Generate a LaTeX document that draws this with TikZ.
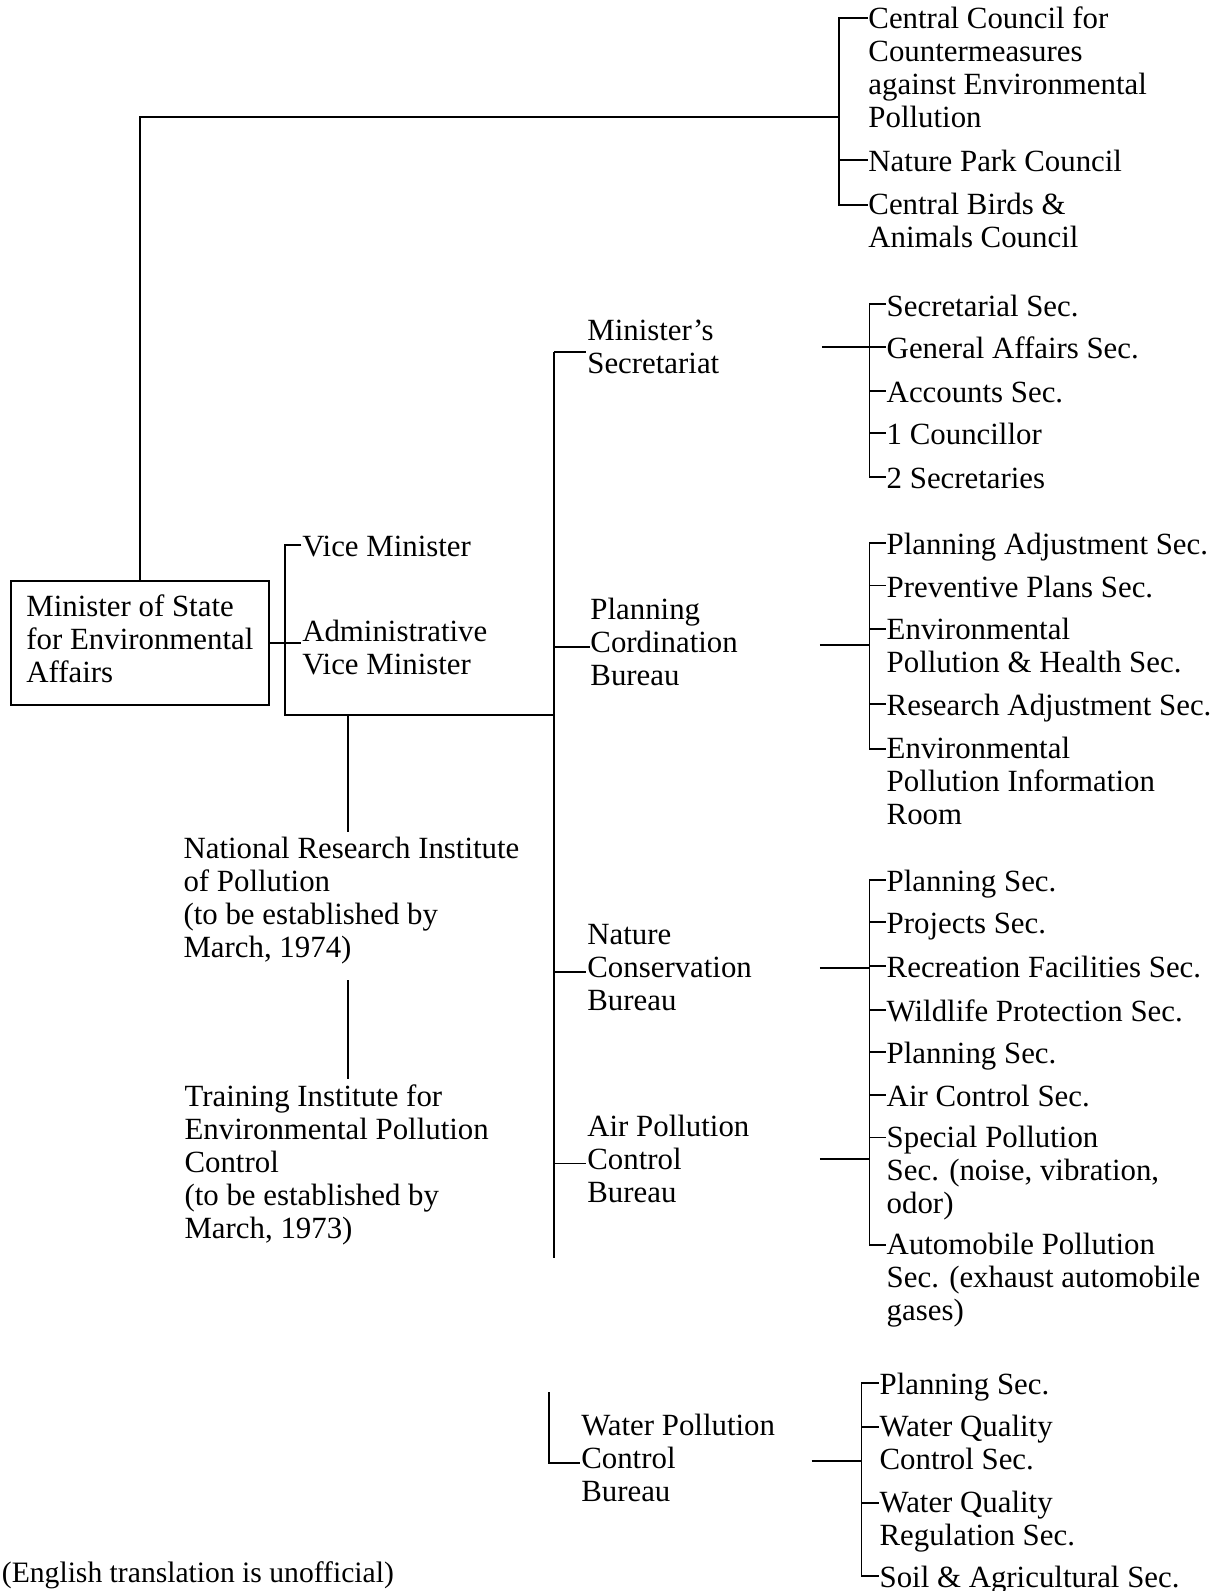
\documentclass[tikz,border=0pt]{standalone}
\usepackage{fontspec}
\setmainfont{Liberation Serif}
\usetikzlibrary{calc}

\begin{document}
\begin{tikzpicture}[
    x=0.5pt, y=-0.5pt,
    line width=0.9pt,
    every node/.style={font=\fontsize{15.2}{16.25}\selectfont},
    item/.style={anchor=north west, inner sep=0pt, yshift=6.1pt, align=left, execute at begin node=\strut},
    office/.style={draw, align=left, inner sep=0pt, minimum width=127pt, minimum height=61pt, anchor=north west, execute at begin node=\strut},
    lineone/.style={yshift=-6.1pt}
]
    \useasboundingbox (0,0) rectangle (1202,1568);

    % councils
    \node[item] (ccp) at (855,18) {Central Council for\\Countermeasures\\against Environmental\\Pollution};
    \node[item] (npc) at (855,158) {Nature Park Council};
    \node[item] (cba) at (855,202) {Central Birds \&\\Animals Council};

    % minister and vice ministers
    \node[office] (mos) at (10,572) {Minister of State\\for Environmental\\Affairs};
    \node[item] (vm) at (297,537) {Vice Minister};
    \node[item] (avm) at (297,622) {Administrative\\Vice Minister};
    \node[item] (nri) at (180,836) {National Research Institute\\of Pollution\\(to be established by\\March, 1974)};
    \node[item] (tri) at (181,1080) {Training Institute for\\Environmental Pollution\\Control\\(to be established by\\March, 1973)};

    % bureaus
    \node[item] (msec) at (578,327) {Minister's\\Secretariat};
    \node[item] (pcb) at (581,601) {Planning\\Cordination\\Bureau};
    \node[item] (ncb) at (578,922) {Nature\\Conservation\\Bureau};
    \node[item] (apb) at (578,1110) {Air Pollution\\Control\\Bureau};
    \node[item] (wpb) at (572,1405) {Water Pollution\\Control\\Bureau};

    % sections
    \node[item] (s1) at (873,300) {Secretarial Sec.};
    \node[item] (s2) at (873,342) {General Affairs Sec.};
    \node[item] (s3) at (873,385) {Accounts Sec.};
    \node[item] (s4) at (873,427) {1 Councillor};
    \node[item] (s5) at (873,470) {2 Secretaries};

    \node[item] (p1) at (873,535) {Planning Adjustment Sec.};
    \node[item] (p2) at (873,577) {Preventive Plans Sec.};
    \node[item] (p3) at (873,620) {Environmental\\Pollution \& Health Sec.};
    \node[item] (p4) at (873,694) {Research Adjustment Sec.};
    \node[item] (p5) at (873,738) {Environmental\\Pollution Information\\Room};

    \node[item] (n1) at (873,867) {Planning Sec.};
    \node[item] (n2) at (873,909) {Projects Sec.};
    \node[item] (n3) at (873,952) {Recreation Facilities Sec.};
    \node[item] (n4) at (873,995) {Wildlife Protection Sec.};
    \node[item] (a1) at (873,1037) {Planning Sec.};
    \node[item] (a2) at (873,1079) {Air Control Sec.};
    \node[item] (a3) at (873,1121) {Special Pollution\\Sec. (noise, vibration,\\odor)};
    \node[item] (a4) at (873,1227) {Automobile Pollution\\Sec. (exhaust automobile\\gases)};

    \node[item] (w1) at (866,1363) {Planning Sec.};
    \node[item] (w2) at (866,1406) {Water Quality\\Control Sec.};
    \node[item] (w3) at (866,1481) {Water Quality\\Regulation Sec.};
    \node[item] (w4) at (866,1553) {Soil \& Agricultural Sec.};

    \node[item, font=\fontsize{14.6}{16.25}\selectfont] (note) at (1,1548) {(English translation is unofficial)};

    % minister to councils
    \coordinate (cjoin) at (827,115);
    \draw (mos.north) |- (cjoin);
    \draw ([lineone]ccp.north west) -- ++(-28,0) |- ([lineone]cba.north west);
    \draw ([lineone]npc.north west) -- ++(-28,0);

    % minister to vice ministers and bureaus
    \coordinate (mbar) at (546,1240);
    \coordinate (vjoin) at (281,705);
    \coordinate (ijoin) at (343,705);
    \draw (mos.east) -- (mos.east -| avm.west);
    \draw ([lineone]vm.north west) -- ++(-16,0) |- (vjoin -| mbar);
    \draw[shorten >=2pt] (ijoin) -- (ijoin |- nri.north);
    \draw[shorten <=6pt, shorten >=2pt] (ijoin |- nri.south) -- (ijoin |- tri.north);
    \draw (msec.west -| mbar) -- (mbar);
    \foreach \b in {msec,pcb,ncb,apb}
        \draw (\b.west -| mbar) -- (\b.west);
    \coordinate (wtop) at (541,1372);
    \draw (wtop) |- (wpb.west);

    % bureaus to sections
    \coordinate (sout) at (810,342);
    \draw[shorten >=8pt] (sout) -- (sout -| s1.west);
    \draw ([lineone]s1.north west) -- ++(-16,0) |- ([lineone]s5.north west);
    \foreach \s in {s2,s3,s4}
        \draw ([lineone]\s.north west) -- ++(-16,0);

    \coordinate (pout) at (808,636);
    \draw[shorten >=8pt] (pout) -- (pout -| p1.west);
    \draw ([lineone]p1.north west) -- ++(-16,0) |- ([lineone]p5.north west);
    \foreach \s in {p2,p3,p4}
        \draw ([lineone]\s.north west) -- ++(-16,0);

    \coordinate (nout) at (808,954);
    \coordinate (aout) at (808,1142);
    \draw[shorten >=8pt] (nout) -- (nout -| n1.west);
    \draw[shorten >=8pt] (aout) -- (aout -| n1.west);
    \draw ([lineone]n1.north west) -- ++(-16,0) |- ([lineone]a4.north west);
    \foreach \s in {n2,n3,n4,a1,a2,a3}
        \draw ([lineone]\s.north west) -- ++(-16,0);

    \coordinate (wout) at (800,1440);
    \draw[shorten >=8.5pt] (wout) -- (wout -| w1.west);
    \draw ([lineone]w1.north west) -- ++(-17,0) |- ([lineone]w4.north west);
    \foreach \s in {w2,w3}
        \draw ([lineone]\s.north west) -- ++(-17,0);
\end{tikzpicture}
\end{document}
